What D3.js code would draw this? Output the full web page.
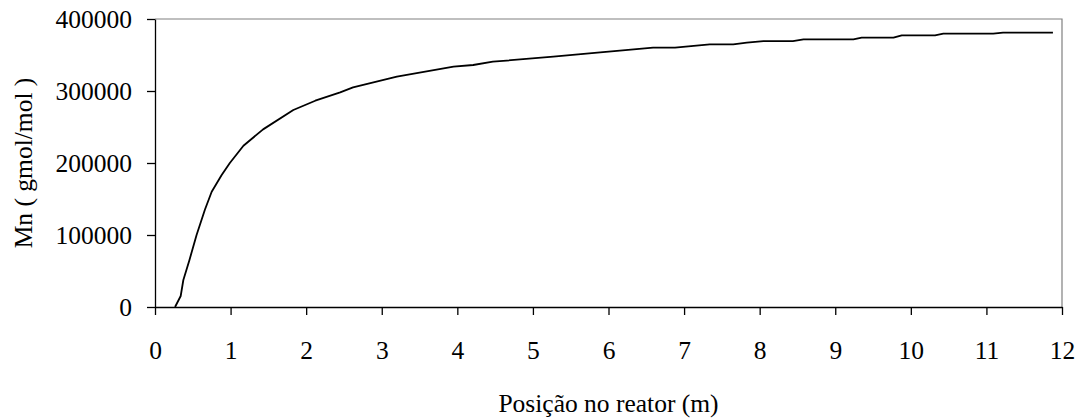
<!DOCTYPE html>
<head>
    <meta charset="utf-8">
    <title>Mn vs posicao no reator</title>
    <style>
        body { margin: 0; background: #fff; }
        text { font-family: "Liberation Serif", "Times New Roman", serif; fill: #000; }
    </style>
</head>
<body>
<svg width="1085" height="418"></svg>

<script src="https://d3js.org/d3.v7.min.js"></script>
<script>
    // data
    var posicao = [0.265, 0.34, 0.375, 0.455, 0.55, 0.66, 0.75, 0.88, 0.99, 1.17, 1.43, 1.83, 2.12, 2.45,
                   2.62, 3.2, 3.95, 4.21, 4.47, 5.27, 5.89, 6.15, 6.59, 6.88, 7.34, 7.65, 7.83, 8.05, 8.44,
                   8.58, 9.24, 9.35, 9.77, 9.88, 10.32, 10.43, 11.09, 11.22, 11.88];
    var mn = [0, 15300, 37500, 65000, 100000, 135000, 160000, 183000, 200000, 224000, 246700, 273600, 286500, 298000,
              305000, 319900, 333800, 336100, 340700, 347600, 353700, 356000, 360200, 360200, 364800, 364800, 367100, 369400, 369400,
              371700, 371700, 374000, 374000, 377300, 377300, 379600, 379600, 381000, 381000];
    var xTicks = d3.range(0, 13);
    var yTicks = [0, 100000, 200000, 300000, 400000];

    var svg = d3.select("svg");
    var margin = {left: 155, top: 19, right: 23, bottom: 111};
    var width = 1085 - margin.left - margin.right,
        height = 418 - margin.top - margin.bottom;

    var x = d3.scaleLinear().domain([0, 12]).range([0, width]);
    var y = d3.scaleLinear().domain([0, 400000]).range([height, 0]);

    var g = svg.append("g")
        .attr("transform", "translate(" + margin.left + "," + margin.top + ")");

    // gray frame on top and right
    g.append("path")
        .attr("d", "M0,0H" + width + "V" + height)
        .attr("fill", "none")
        .attr("stroke", "#808080")
        .attr("stroke-width", 1.2);

    var xAxis = g.append("g")
        .attr("transform", "translate(0," + height + ")")
        .call(d3.axisBottom(x).tickValues(xTicks).tickSize(8).tickPadding(26).tickSizeOuter(0));

    var yAxis = g.append("g")
        .call(d3.axisLeft(y).tickValues(yTicks).tickSize(8).tickPadding(15).tickSizeOuter(0).tickFormat(d3.format("d")));

    [xAxis, yAxis].forEach(function(a) {
        a.selectAll("path, line").attr("stroke", "#000").attr("stroke-width", 1.3);
        a.selectAll("text").attr("font-family", "Liberation Serif").attr("font-size", 25.5).attr("fill", "#000");
    });
    yAxis.selectAll("text").attr("dy", "0.34em");

    var line = d3.line()
        .x(function(d, i) { return x(posicao[i]); })
        .y(function(d) { return y(d); });

    g.append("path")
        .datum(mn)
        .attr("fill", "none")
        .attr("stroke", "#000")
        .attr("stroke-width", 1.8)
        .attr("stroke-linejoin", "round")
        .attr("d", line);

    // axis titles
    svg.append("text")
        .attr("x", margin.left + width / 2)
        .attr("y", 412)
        .attr("text-anchor", "middle")
        .attr("font-size", 25.5)
        .text("Posição no reator (m)");

    svg.append("text")
        .attr("transform", "translate(32," + (margin.top + height / 2) + ") rotate(-90)")
        .attr("text-anchor", "middle")
        .attr("font-size", 25.5)
        .text("Mn ( gmol/mol )");
</script>
</body>
